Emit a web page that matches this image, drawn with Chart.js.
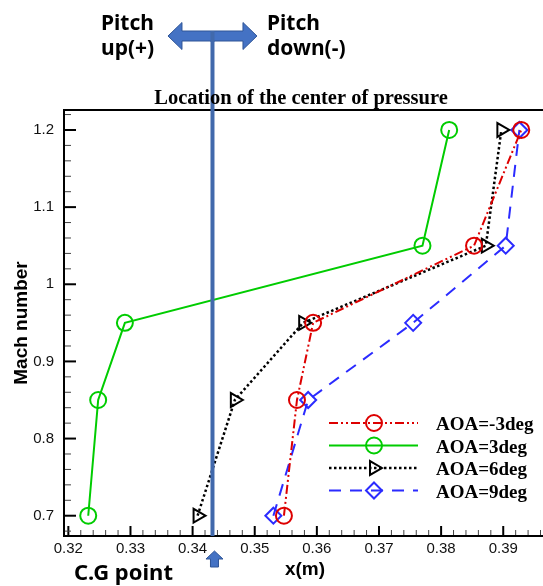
<!DOCTYPE html>
<html lang="en">
<head>
<meta charset="UTF-8">
<title>Location of the center of pressure</title>
<script src="https://cdn.jsdelivr.net/npm/chart.js@4.4.0/dist/chart.umd.min.js"></script>
<style>
  * { margin: 0; padding: 0; box-sizing: border-box; }
  body { background: #fff; }
  #cp { display: block; }
</style>
</head>
<body>
<canvas id="cp" width="543" height="586"></canvas>
<script>
  // Mach number (y) and x location (m) of the center of pressure for each AOA
  const mach = [0.7, 0.85, 0.95, 1.05, 1.2];
  const aoaM3 = [0.3547, 0.3568, 0.3594, 0.3853, 0.3929];
  const aoa3 = [0.3232, 0.3248, 0.3291, 0.3770, 0.3813];
  const aoa6 = [0.3408, 0.3468, 0.3578, 0.3872, 0.3897];
  const aoa9 = [0.3530, 0.3586, 0.3755, 0.3904, 0.3926];
  const seriesNames = ['AOA=-3deg', 'AOA=3deg', 'AOA=6deg', 'AOA=9deg'];
  const xTicks = [0.32, 0.33, 0.34, 0.35, 0.36, 0.37, 0.38, 0.39];
  const yTicks = [0.7, 0.8, 0.9, 1.0, 1.1, 1.2];
  const cgX = 0.3432; // C.G point

  const CLEAR = 'rgba(0,0,0,0)';

  function series(name, xs, color, dash, style, rot, width) {
    return {
      label: name,
      data: xs.map((x, i) => ({ x: x, y: mach[i] })),
      showLine: true,
      borderColor: color,
      backgroundColor: CLEAR,
      borderWidth: width,
      borderDash: dash,
      tension: 0,
      pointStyle: style,
      pointRotation: rot,
      pointRadius: 8,
      pointBorderWidth: 2,
      pointBorderColor: color,
      pointBackgroundColor: CLEAR,
    };
  }

  const datasets = [
    series(seriesNames[0], aoaM3, '#dd0000', [9, 3, 2, 3, 2, 3], 'circle', 0, 2),
    series(seriesNames[1], aoa3, '#00cc00', [], 'circle', 0, 2),
    series(seriesNames[2], aoa6, '#000000', [2.5, 2.5], 'triangle', 90, 2.5),
    series(seriesNames[3], aoa9, '#2b2bff', [12, 9], 'rectRot', 0, 2),
  ];

  function line(ctx, x1, y1, x2, y2) {
    ctx.beginPath();
    ctx.moveTo(x1, y1);
    ctx.lineTo(x2, y2);
    ctx.stroke();
  }

  function marker(ctx, ds, x, y) {
    const r = 8;
    ctx.save();
    ctx.setLineDash([]);
    ctx.strokeStyle = ds.pointBorderColor;
    ctx.lineWidth = 2;
    ctx.beginPath();
    if (ds.pointStyle === 'circle') {
      ctx.arc(x, y, r, 0, Math.PI * 2);
    } else if (ds.pointStyle === 'triangle') {
      ctx.moveTo(x + r, y);
      ctx.lineTo(x - r / 2, y - r * 0.866);
      ctx.lineTo(x - r / 2, y + r * 0.866);
      ctx.closePath();
    } else {
      ctx.moveTo(x, y - r);
      ctx.lineTo(x + r, y);
      ctx.lineTo(x, y + r);
      ctx.lineTo(x - r, y);
      ctx.closePath();
    }
    ctx.stroke();
    ctx.restore();
  }

  const decor = {
    id: 'decor',
    beforeDatasetsDraw(chart) {
      const ctx = chart.ctx, a = chart.chartArea;
      const xs = chart.scales.x, ys = chart.scales.y;
      ctx.save();
      // x ticks (inside)
      const xStep = (xTicks[1] - xTicks[0]) / 5;
      for (let k = Math.ceil((xs.min - xTicks[0]) / xStep); xTicks[0] + k * xStep <= xs.max; k++) {
        const px = xs.getPixelForValue(xTicks[0] + k * xStep);
        const major = k % 5 === 0;
        ctx.lineWidth = major ? 2 : 1;
        ctx.strokeStyle = major ? '#000' : '#444';
        line(ctx, px, a.bottom, px, a.bottom - (major ? 10 : 6));
      }
      // y ticks (inside)
      const yStep = (yTicks[1] - yTicks[0]) / 5;
      for (let k = Math.ceil((ys.min - yTicks[0]) / yStep); yTicks[0] + k * yStep <= ys.max + 1e-9; k++) {
        const py = ys.getPixelForValue(yTicks[0] + k * yStep);
        const major = k % 5 === 0;
        ctx.lineWidth = major ? 2 : 1;
        ctx.strokeStyle = major ? '#000' : '#444';
        line(ctx, a.left, py, a.left + (major ? 12 : 7), py);
      }
      ctx.restore();
    },
    afterDatasetsDraw(chart) {
      const ctx = chart.ctx, a = chart.chartArea;
      const xs = chart.scales.x;
      ctx.save();
      // frame
      ctx.strokeStyle = '#000';
      ctx.lineWidth = 2;
      ctx.beginPath();
      ctx.moveTo(a.right + 2, a.top);
      ctx.lineTo(a.left, a.top);
      ctx.lineTo(a.left, a.bottom);
      ctx.lineTo(a.right + 2, a.bottom);
      ctx.stroke();

      // C.G line
      const cx = xs.getPixelForValue(cgX);
      ctx.strokeStyle = '#4169ac';
      ctx.lineWidth = 4;
      line(ctx, cx, 36, cx, a.bottom);

      // double arrow at top
      const ay = 36, half = 44.5, head = 14, hh = 13.5, sh = 5;
      ctx.fillStyle = '#4472c4';
      ctx.strokeStyle = '#2f5597';
      ctx.lineWidth = 1;
      ctx.beginPath();
      ctx.moveTo(cx - half, ay);
      ctx.lineTo(cx - half + head, ay - hh);
      ctx.lineTo(cx - half + head, ay - sh);
      ctx.lineTo(cx + half - head, ay - sh);
      ctx.lineTo(cx + half - head, ay - hh);
      ctx.lineTo(cx + half, ay);
      ctx.lineTo(cx + half - head, ay + hh);
      ctx.lineTo(cx + half - head, ay + sh);
      ctx.lineTo(cx - half + head, ay + sh);
      ctx.lineTo(cx - half + head, ay + hh);
      ctx.closePath();
      ctx.fill();
      ctx.stroke();
      ctx.strokeStyle = '#4169ac';
      ctx.lineWidth = 4;
      line(ctx, cx, ay - sh, cx, ay + sh + 1);

      // small up arrow under the axis
      const ux = cx + 2, uy = 551;
      ctx.fillStyle = '#4472c4';
      ctx.strokeStyle = '#2f5597';
      ctx.lineWidth = 1;
      ctx.beginPath();
      ctx.moveTo(ux, uy);
      ctx.lineTo(ux + 8.5, uy + 8);
      ctx.lineTo(ux + 4, uy + 8);
      ctx.lineTo(ux + 4, uy + 16);
      ctx.lineTo(ux - 4, uy + 16);
      ctx.lineTo(ux - 4, uy + 8);
      ctx.lineTo(ux - 8.5, uy + 8);
      ctx.closePath();
      ctx.fill();
      ctx.stroke();

      // texts
      ctx.fillStyle = '#000';
      ctx.textBaseline = 'alphabetic';
      ctx.textAlign = 'left';
      ctx.font = 'bold 21px "Noto Sans"';
      ctx.fillText('Pitch', 101, 30);
      ctx.fillText('up(+)', 101, 55);
      ctx.fillText('Pitch', 267, 30);
      ctx.fillText('down(-)', 267, 55);

      ctx.font = 'bold 22px "Noto Sans"';
      ctx.fillText('C.G point', 74, 580);

      ctx.textAlign = 'center';
      ctx.font = 'bold 20.5px "Liberation Serif"';
      ctx.fillText('Location of the center of pressure', 301, 104);

      ctx.font = 'bold 19px "Liberation Sans"';
      ctx.fillText('x(m)', 305, 575);

      ctx.save();
      ctx.translate(27, 323);
      ctx.rotate(-Math.PI / 2);
      ctx.fillText('Mach number', 0, 0);
      ctx.restore();

      // legend
      chart.data.datasets.forEach((ds, i) => {
        const ly = 423 + i * 22.5;
        ctx.save();
        ctx.strokeStyle = ds.borderColor;
        ctx.lineWidth = ds.borderWidth;
        ctx.setLineDash(ds.borderDash);
        line(ctx, 329, ly, 418, ly);
        ctx.restore();
        marker(ctx, ds, 374, ly);
        ctx.textAlign = 'left';
        ctx.font = 'bold 19px "Liberation Serif"';
        ctx.fillStyle = '#000';
        ctx.fillText(ds.label, 436, ly + 7);
      });
      ctx.restore();
    }
  };

  new Chart(document.getElementById('cp'), {
    type: 'scatter',
    data: { datasets: datasets },
    options: {
      responsive: false,
      animation: false,
      devicePixelRatio: 1,
      layout: { autoPadding: false, padding: { top: 110, left: 0, right: 0, bottom: 0 } },
      plugins: { legend: { display: false }, tooltip: { enabled: false } },
      scales: {
        x: {
          type: 'linear',
          min: 0.3193,
          max: 0.3964,
          grid: { display: false, drawTicks: false },
          border: { display: false },
          afterBuildTicks: s => { s.ticks = xTicks.map(v => ({ value: v })); },
          afterFit: s => { s.height = 50; s.paddingLeft = 0; s.paddingRight = 0; },
          ticks: {
            padding: 4,
            autoSkip: false,
            maxRotation: 0,
            color: '#111',
            font: { family: 'Liberation Sans', size: 15 },
            callback: v => v.toFixed(2),
          },
        },
        y: {
          type: 'linear',
          min: 0.6737,
          max: 1.2259,
          grid: { display: false, drawTicks: false },
          border: { display: false },
          afterBuildTicks: s => { s.ticks = yTicks.map(v => ({ value: v })); },
          afterFit: s => { s.width = 64; s.paddingTop = 0; s.paddingBottom = 0; },
          ticks: {
            padding: 10,
            autoSkip: false,
            color: '#111',
            font: { family: 'Liberation Sans', size: 15 },
            callback: v => String(+v.toFixed(2)),
          },
        },
      },
    },
    plugins: [decor],
  });
</script>
</body>
</html>
